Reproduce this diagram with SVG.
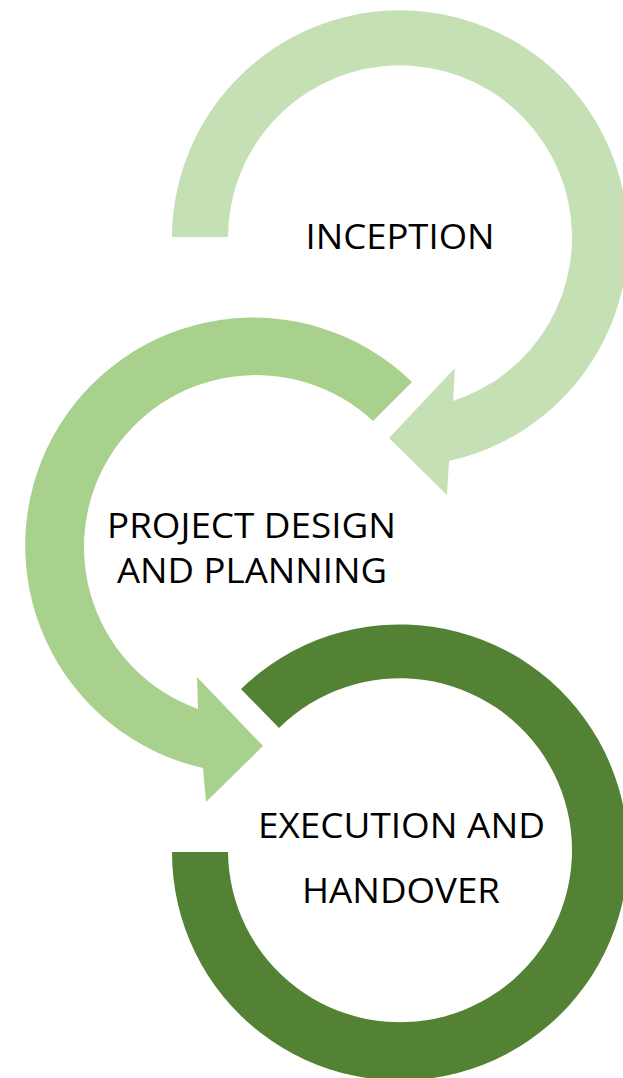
<svg xmlns="http://www.w3.org/2000/svg" width="623" height="1078" viewBox="0 0 623 1078">
<style>
.lbl{font-family:"Open Sans","Noto Sans","Liberation Sans",sans-serif;font-size:34px;fill:#000;text-anchor:middle}
</style>
<rect width="623" height="1078" fill="#fff"/>
<g id="connectors"></g>
<g id="inception">
<path fill="#C5E0B4" d="M172,237 A228,228 0 1 1 449,461 L447,495 L389,438 L455,368 L453,401 A172,172 0 1 0 228,237 Z"/>
<text class="lbl" x="400" y="249" textLength="189" lengthAdjust="spacingAndGlyphs">INCEPTION</text>
</g>
<g id="design">
<path fill="#A9D18E" d="M412,382 A228,228 0 1 0 203,768 L206,802 L263,746 L197,677 L198,709 A172,172 0 1 1 373,421 Z"/>
<text class="lbl" x="251.5" y="538" textLength="289" lengthAdjust="spacingAndGlyphs">PROJECT DESIGN</text>
<text class="lbl" x="252" y="583" textLength="270" lengthAdjust="spacingAndGlyphs">AND PLANNING</text>
</g>
<g id="execution">
<path fill="#548235" d="M241,689 A228,228 0 1 1 172,852 L228,852 A172,172 0 1 0 279,728 Z"/>
<text class="lbl" x="401.5" y="838" textLength="287" lengthAdjust="spacingAndGlyphs">EXECUTION AND</text>
<text class="lbl" x="401" y="903" textLength="198" lengthAdjust="spacingAndGlyphs">HANDOVER</text>
</g>
</svg>
